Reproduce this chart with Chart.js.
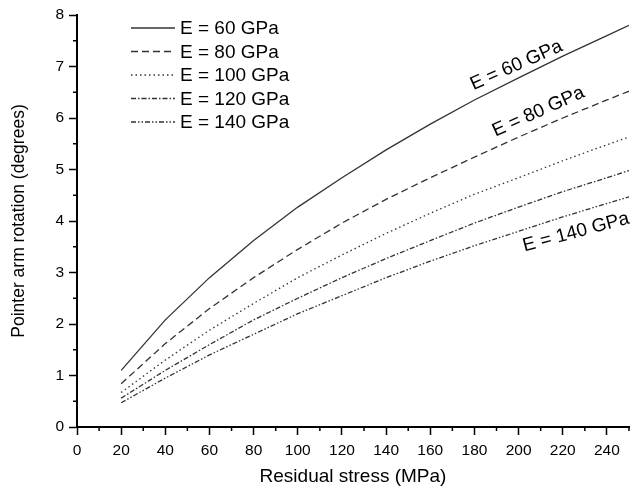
<!DOCTYPE html>
<html>
<head>
<meta charset="utf-8">
<script src="https://cdn.jsdelivr.net/npm/chart.js@4/dist/chart.umd.min.js"></script>
<style>
    html, body { margin: 0; padding: 0; background: #fff; }
    #wrap { width: 630px; height: 490px; }
</style>
</head>
<body>
<div id="wrap"><canvas id="chart" width="630" height="490"></canvas></div>
<script>
// ============================================
// Pointer arm rotation vs residual stress
// ============================================

// Data
var stress = [20, 40, 60, 80, 100, 120, 140, 160, 180, 200, 220, 240, 250];
var rotE60  = [1.10, 2.08, 2.90, 3.62, 4.27, 4.84, 5.38, 5.88, 6.35, 6.78, 7.20, 7.60, 7.80];
var rotE80  = [0.84, 1.62, 2.30, 2.90, 3.45, 3.96, 4.42, 4.84, 5.24, 5.63, 6.00, 6.35, 6.52];
var rotE100 = [0.67, 1.30, 1.88, 2.40, 2.90, 3.34, 3.76, 4.15, 4.52, 4.84, 5.17, 5.48, 5.63];
var rotE120 = [0.56, 1.10, 1.60, 2.08, 2.50, 2.90, 3.27, 3.62, 3.96, 4.27, 4.57, 4.84, 4.98];
var rotE140 = [0.47, 0.95, 1.40, 1.80, 2.20, 2.55, 2.90, 3.22, 3.52, 3.80, 4.08, 4.34, 4.47];

var seriesLabels = ['E = 60 GPa', 'E = 80 GPa', 'E = 100 GPa', 'E = 120 GPa', 'E = 140 GPa'];
var xTicks = [0, 20, 40, 60, 80, 100, 120, 140, 160, 180, 200, 220, 240];
var yTicks = [0, 1, 2, 3, 4, 5, 6, 7, 8];

// Line styles
var FONT = '"Liberation Sans", Arial, sans-serif';
var LINE_COLOR = '#333';
var dashes = [[], [7, 4], [1.5, 3], [5, 2, 1.5, 2], [5, 2, 1.5, 2, 1.5, 2]];

// Labels written on the curves (data coords)
var curveNotes = [
    { text: 'E = 60 GPa', x: 199, y: 7.02, angle: -24 },
    { text: 'E = 80 GPa', x: 209, y: 6.12, angle: -24 },
    { text: 'E = 140 GPa', x: 226, y: 3.78, angle: -15 }
];

function toPoints(ys) {
    var pts = [];
    for (var i = 0; i < stress.length; i++) {
        pts.push({ x: stress[i], y: ys[i] });
    }
    return pts;
}

var allSeries = [rotE60, rotE80, rotE100, rotE120, rotE140];
var datasets = [];
for (var i = 0; i < allSeries.length; i++) {
    datasets.push({
        label: seriesLabels[i],
        data: toPoints(allSeries[i]),
        borderColor: LINE_COLOR,
        borderWidth: 1.3,
        borderDash: dashes[i],
        pointRadius: 0,
        tension: 0,
        fill: false
    });
}

// minor ticks, legend and curve labels
var extrasPlugin = {
    id: 'extras',
    afterDraw: function(chart) {
        var ctx = chart.ctx;
        var xs = chart.scales.x, ys = chart.scales.y;
        var area = chart.chartArea;
        ctx.save();
        ctx.strokeStyle = '#000';
        ctx.lineWidth = 1.5;
        ctx.beginPath();
        for (var v = 10; v <= 250; v += 20) {
            var px = xs.getPixelForValue(v);
            ctx.moveTo(px, area.bottom);
            ctx.lineTo(px, area.bottom + 4);
        }
        for (var w = 0.5; w < 8; w += 1) {
            var py = ys.getPixelForValue(w);
            ctx.moveTo(area.left, py);
            ctx.lineTo(area.left - 4, py);
        }
        ctx.stroke();

        // legend
        ctx.font = '19px ' + FONT;
        ctx.textBaseline = 'middle';
        ctx.fillStyle = '#000';
        for (var i = 0; i < seriesLabels.length; i++) {
            var ly = 28 + i * 23.5;
            ctx.strokeStyle = LINE_COLOR;
            ctx.lineWidth = 1.3;
            ctx.setLineDash(dashes[i]);
            ctx.beginPath();
            ctx.moveTo(131, ly);
            ctx.lineTo(175, ly);
            ctx.stroke();
            ctx.setLineDash([]);
            ctx.fillText(seriesLabels[i], 180, ly + 1);
        }

        // notes on curves
        ctx.textAlign = 'center';
        for (var j = 0; j < curveNotes.length; j++) {
            var n = curveNotes[j];
            ctx.save();
            ctx.translate(xs.getPixelForValue(n.x), ys.getPixelForValue(n.y));
            ctx.rotate(n.angle * Math.PI / 180);
            ctx.fillText(n.text, 0, 0);
            ctx.restore();
        }
        ctx.restore();
    }
};

var ctx = document.getElementById('chart').getContext('2d');
var chart = new Chart(ctx, {
    type: 'line',
    data: { datasets: datasets },
    options: {
        responsive: false,
        animation: false,
        layout: { padding: { top: 15, right: 1, left: 0, bottom: 0 } },
        plugins: {
            legend: { display: false },
            tooltip: { enabled: false }
        },
        scales: {
            x: {
                type: 'linear',
                min: 0,
                max: 250,
                afterFit: function(scale) { scale.height = 63; },
                afterBuildTicks: function(scale) {
                    scale.ticks = xTicks.map(function(v) { return { value: v }; });
                },
                ticks: { color: '#000', font: { family: FONT, size: 15.5 }, padding: 6, maxRotation: 0, autoSkip: false },
                grid: { drawOnChartArea: false, drawTicks: true, tickLength: 8, tickColor: '#000', tickWidth: 1.5 },
                border: { display: true, color: '#000', width: 2 },
                title: { display: true, text: 'Residual stress (MPa)', color: '#000', font: { family: FONT, size: 19 }, padding: { top: 0, bottom: 2 } }
            },
            y: {
                min: 0,
                max: 8,
                afterFit: function(scale) { scale.width = 77; },
                afterBuildTicks: function(scale) {
                    scale.ticks = yTicks.map(function(v) { return { value: v }; });
                },
                ticks: { color: '#000', font: { family: FONT, size: 15.5 }, padding: 5, autoSkip: false },
                grid: { drawOnChartArea: false, drawTicks: true, tickLength: 8, tickColor: '#000', tickWidth: 1.5 },
                border: { display: true, color: '#000', width: 2 },
                title: { display: true, text: 'Pointer arm rotation (degrees)', color: '#000', font: { family: FONT, size: 17.5 }, padding: { top: 9, bottom: 0 } }
            }
        }
    },
    plugins: [extrasPlugin]
});
</script>
</body>
</html>
